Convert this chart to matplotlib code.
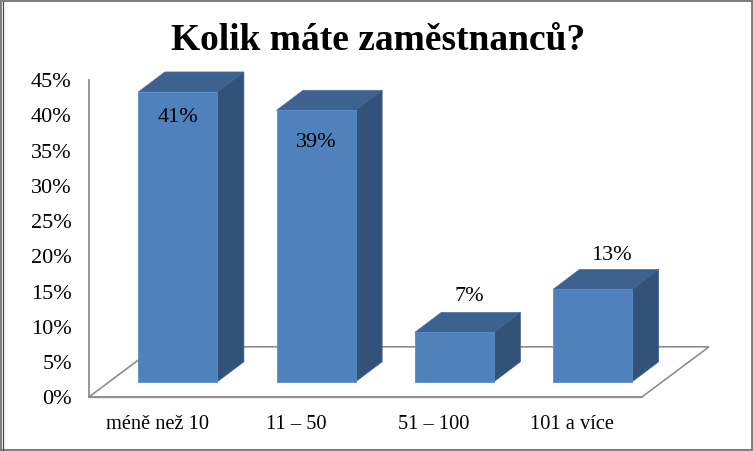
import matplotlib
matplotlib.use("Agg")
import matplotlib.pyplot as plt
from matplotlib.lines import Line2D
from matplotlib.patches import Polygon, Rectangle

categories = ["méně než 10", "11 – 50", "51 – 100", "101 a více"]
values = [41.1, 38.5, 7.0, 13.1]
value_labels = ["41%", "39%", "7%", "13%"]
ticks = [0, 5, 10, 15, 20, 25, 30, 35, 40, 45]

W, H = 753, 451
FRONT, TOP, SIDE = "#4F81BD", "#3D6290", "#325279"
GRID = "#8E8E8E"
SERIF = "Liberation Serif"

fig = plt.figure(figsize=(W / 100, H / 100), dpi=100, facecolor="white")
ax = fig.add_axes([88.5 / W, 1 - 397.3 / H, 553.0 / W, 317.3 / H])
ax.set_xlim(-0.5, 3.5)
ax.set_ylim(0, 45)
ax.patch.set_visible(False)
for s in ["top", "right"]:
    ax.spines[s].set_visible(False)
for s in ["left", "bottom"]:
    ax.spines[s].set_color(GRID)
    ax.spines[s].set_linewidth(1.3)

# floor outline
fdx, fdy = 0.488, 7.16
floor = Polygon([(-0.5, 0), (-0.5 + fdx, fdy), (3.5 + fdx, fdy), (3.5, 0)],
                closed=True, fill=False, edgecolor=GRID, lw=1.2, clip_on=False, zorder=1)
ax.add_patch(floor)

# 3D bars
bw = 0.572
ox, oy = 0.146, 2.2
ddx, ddy = 0.192, 2.84
xs = [i + ox for i in range(len(values))]
ax.bar(xs, values, width=bw, bottom=oy, color=FRONT, edgecolor="#5B8BC4", lw=0.6, zorder=3, clip_on=False)
for x, v in zip(xs, values):
    l, r, t = x - bw / 2, x + bw / 2, v + oy
    ax.add_patch(Polygon([(l, t), (l + ddx, t + ddy), (r + ddx, t + ddy), (r, t)],
                         closed=True, fc=TOP, ec="#4A72A2", lw=0.5, zorder=2.5, clip_on=False))
    ax.add_patch(Polygon([(r, oy), (r + ddx, oy + ddy), (r + ddx, t + ddy), (r, t)],
                         closed=True, fc=SIDE, ec="#3D6290", lw=0.5, zorder=2.5, clip_on=False))

# value labels
label_dx = [0.0, 0.0, 0.11, 0.137]
label_dy = [-3.6, -4.6, 5.05, 4.8]
for x, v, txt, dx, dy in zip(xs, values, value_labels, label_dx, label_dy):
    ax.text(x + dx, v + oy + dy, txt, ha="center", va="center", family=SERIF,
            fontsize=16, color="black", zorder=5)

ax.set_xticks(range(len(categories)))
ax.set_xticklabels(categories, family=SERIF, fontsize=14.7)
ax.set_yticks(ticks)
ax.set_yticklabels([f"{t}%" for t in ticks], family=SERIF, fontsize=16)
ax.tick_params(axis="both", length=0, colors="black")
ax.tick_params(axis="x", pad=12.5)
ax.tick_params(axis="y", pad=12)

fig.text(378 / W, 1 - 40 / H, "Kolik máte zaměstnanců?", family=SERIF, weight="bold",
         fontsize=27, ha="center", va="center", color="black")

# chart frame
fig.add_artist(Rectangle((0, 0), 1, 1, transform=fig.transFigure, fill=False,
                         edgecolor="#808080", lw=2.9))
fig.add_artist(Line2D([2.5 / W, 2.5 / W], [0, 1 - 2 / H], transform=fig.transFigure,
                      color="#4A4A4A", lw=0.9))
fig.savefig("out.png", dpi=100, facecolor="white")
